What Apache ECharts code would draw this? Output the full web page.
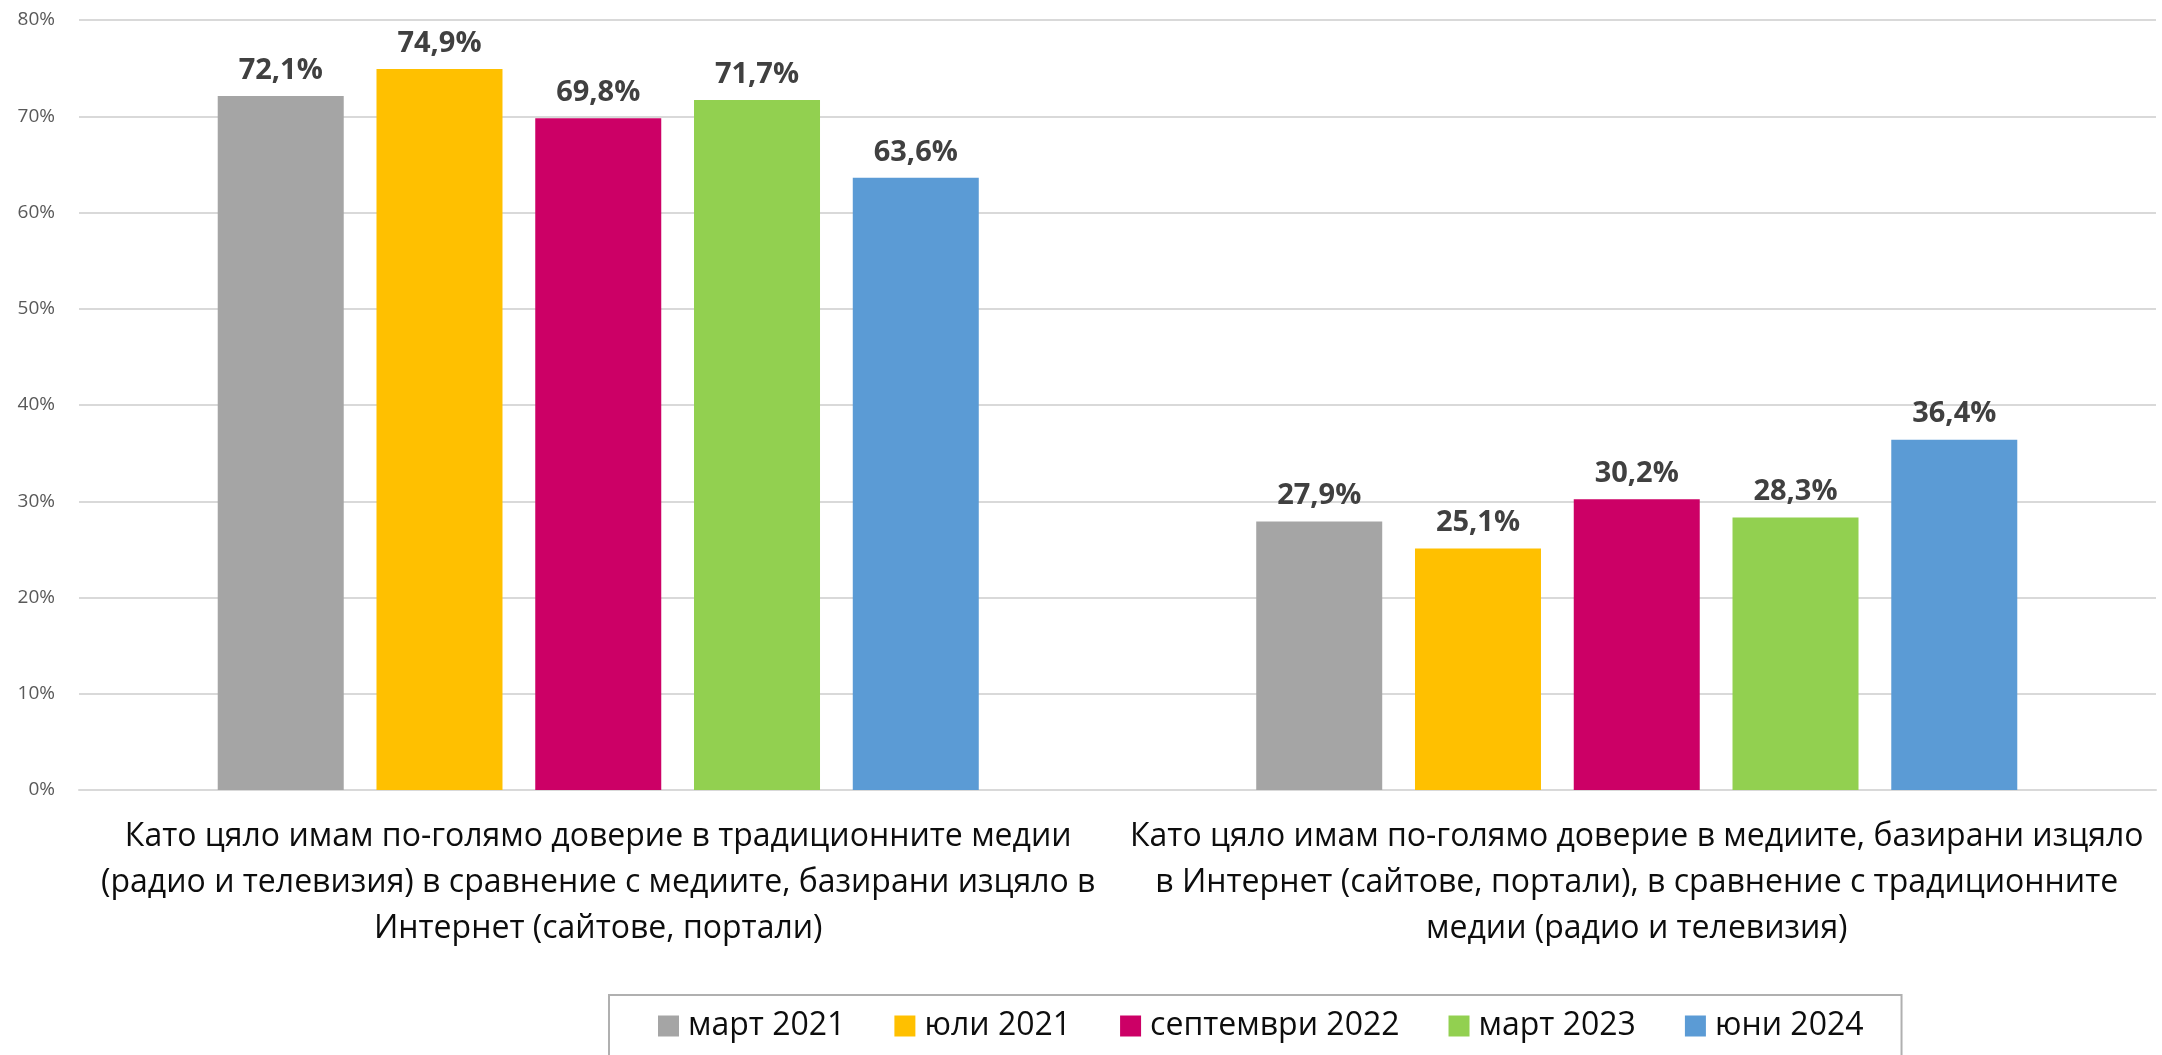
<!DOCTYPE html>
<html lang="bg">
<head>
    <meta charset="UTF-8">
    <title>Доверие в медиите</title>
    <style>
        html, body { margin: 0; padding: 0; background: #fff; }
        #chart { width: 2162px; height: 1055px; }
    </style>
</head>
<body>
<div id="chart"></div>
<script src="https://cdn.jsdelivr.net/npm/echarts@6/dist/echarts.min.js"></script>
<script>
    // категории (текстът е разделен на редове както в оригинала)
    var categories = [
        'Като цяло имам по-голямо доверие в традиционните медии\n(радио и телевизия) в сравнение с медиите, базирани изцяло в\nИнтернет (сайтове, портали)',
        'Като цяло имам по-голямо доверие в медиите, базирани изцяло\nв Интернет (сайтове, портали), в сравнение с традиционните\nмедии (радио и телевизия)'
    ];
    var seriesNames = ['март 2021', 'юли 2021', 'септември 2022', 'март 2023', 'юни 2024'];
    var colors = ['#A5A5A5', '#FFC000', '#CC0066', '#92D050', '#5B9BD5'];

    var mart2021 = [72.1, 27.9];
    var yuli2021 = [74.9, 25.1];
    var sept2022 = [69.8, 30.2];
    var mart2023 = [71.7, 28.3];
    var yuni2024 = [63.6, 36.4];
    var values = [mart2021, yuli2021, sept2022, mart2023, yuni2024];

    var yTicks = { min: 0, max: 80, interval: 10 };

    var FONT = '"Open Sans", "Noto Sans", sans-serif';

    var chart = echarts.init(document.getElementById('chart'));

    var series = seriesNames.map(function (name, i) {
        return {
            name: name,
            type: 'bar',
            barWidth: 126,
            barGap: '26%',
            itemStyle: { color: colors[i] },
            label: {
                show: true,
                position: 'top',
                distance: 11,
                fontFamily: FONT,
                fontWeight: 'bold',
                fontSize: 29,
                color: '#404040',
                formatter: function (p) {
                    return p.value.toFixed(1).replace('.', ',') + '%';
                }
            },
            data: values[i]
        };
    });

    var option = {
        animation: false,
        color: colors,
        grid: {
            left: 79,
            right: 6,
            top: 20,
            bottom: 265
        },
        legend: {
            data: seriesNames,
            left: 609,
            top: 995,
            itemWidth: 21,
            itemHeight: 21,
            itemGap: 49,
            icon: 'rect',
            borderColor: '#b0b0b0',
            borderWidth: 2,
            padding: [15, 38, 30, 49],
            textStyle: {
                fontFamily: FONT,
                fontSize: 32,
                color: '#0d0d0d',
                padding: [0, 0, 0, 4]
            }
        },
        xAxis: {
            type: 'category',
            data: categories,
            axisTick: { show: false },
            axisLine: { lineStyle: { color: '#d9d9d9', width: 2 } },
            axisLabel: {
                interval: 0,
                margin: 24,
                fontFamily: FONT,
                fontSize: 32,
                lineHeight: 46,
                color: '#0d0d0d',
                align: 'center'
            }
        },
        yAxis: {
            type: 'value',
            min: yTicks.min,
            max: yTicks.max,
            interval: yTicks.interval,
            axisLine: { show: false },
            axisTick: { show: false },
            splitLine: { lineStyle: { color: '#d9d9d9', width: 2 } },
            axisLabel: {
                margin: 24,
                fontFamily: FONT,
                fontSize: 19,
                color: '#595959',
                formatter: '{value}%'
            }
        },
        series: series
    };

    chart.setOption(option);
</script>
</body>
</html>
